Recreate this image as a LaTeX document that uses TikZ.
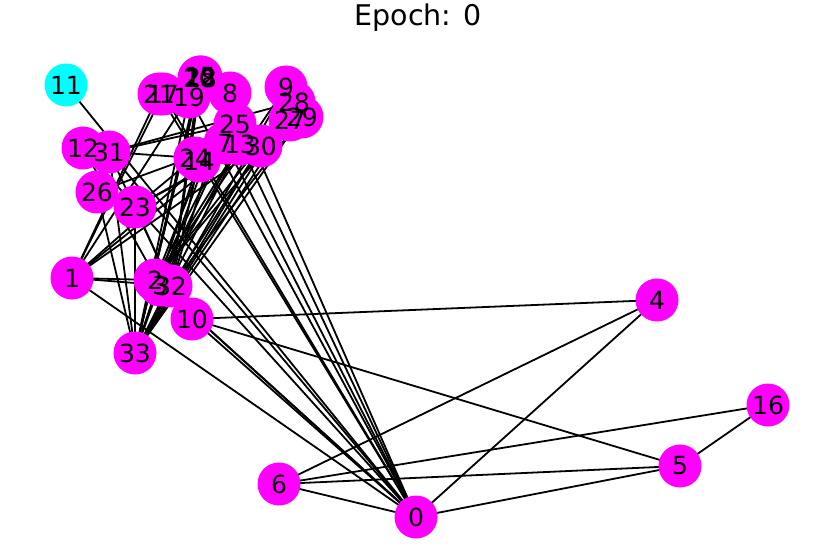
\documentclass[tikz,border=0pt]{standalone}
\usepackage{fontspec}
\setmainfont{DejaVu Sans}
\usetikzlibrary{positioning}
\definecolor{kMag}{HTML}{FF00FF}
\definecolor{kCyan}{HTML}{00FFFF}
\pgfdeclarelayer{bg}
\pgfsetlayers{bg,main}
\tikzset{
  vert/.style ={circle,fill=#1,draw=none,inner sep=0pt,minimum size=43pt},
  lbl/.style  ={inner sep=0pt,font=\fontsize{25}{26}\selectfont},
  edge/.style ={black,line width=1.8pt},
  ttl/.style  ={inner sep=0pt,anchor=base,font=\fontsize{28.5}{30}\selectfont},
}

\begin{document}
\begin{tikzpicture}[x=1pt,y=-1pt]
  \useasboundingbox (0,0) rectangle (822,548);
  % ---- title ----
  \node[ttl] (title) at (418,26) {Epoch: 0};

  % ---- vertices ----
  \foreach \i/\x/\y/\c in {0/416/517/kMag, 1/72/278/kMag, 2/155/280/kMag, 3/160/285/kMag,
      4/657/300/kMag, 5/680/466/kMag, 6/279/484/kMag, 7/225/143/kMag, 8/230/93/kMag,
      9/286/87/kMag, 10/192/319/kMag, 11/66/85/kCyan, 12/83/148/kMag, 13/240/144/kMag,
      14/199/161/kMag, 15/200/77/kMag, 16/768/405/kMag, 17/163/94/kMag, 18/201/78/kMag,
      19/189/97/kMag, 20/199/78/kMag, 21/159/94/kMag, 22/201/77/kMag, 23/135/207/kMag,
      24/195/158/kMag, 25/235/124/kMag, 26/97/192/kMag, 27/290/120/kMag, 28/294/102/kMag,
      29/302/117/kMag, 30/261/146/kMag, 31/109/152/kMag, 32/171/286/kMag, 33/135/353/kMag}
    \node[vert=\c] (v\i) at (\x,\y) {};

  % ---- edges (behind) ----
  \begin{pgfonlayer}{bg}
  \foreach \a/\b in {0/1,0/2,0/3,0/4,0/5,0/6,0/7,0/8,0/10,0/11,0/12,0/13,0/17,0/19,0/21,0/31,
      1/2,1/3,1/7,1/13,1/17,1/19,1/21,1/30,
      2/3,2/7,2/8,2/9,2/13,2/27,2/28,2/32,
      3/7,3/12,3/13, 4/6,4/10, 5/6,5/10,5/16, 6/16,
      8/30,8/32,8/33, 9/33, 13/33, 14/32,14/33, 15/32,15/33,
      18/32,18/33, 19/33, 20/32,20/33, 22/32,22/33,
      23/25,23/27,23/29,23/32,23/33, 24/25,24/27,24/31, 25/31,
      26/29,26/33, 27/33, 28/31,28/33, 29/32,29/33, 30/32,30/33,
      31/32,31/33, 32/33}
    \draw[edge] (v\a.center) -- (v\b.center);
  \end{pgfonlayer}

  % ---- labels on top ----
  \foreach \i in {0,...,33}
    \node[lbl] (t\i) at (v\i) {\i};
\end{tikzpicture}
\end{document}
